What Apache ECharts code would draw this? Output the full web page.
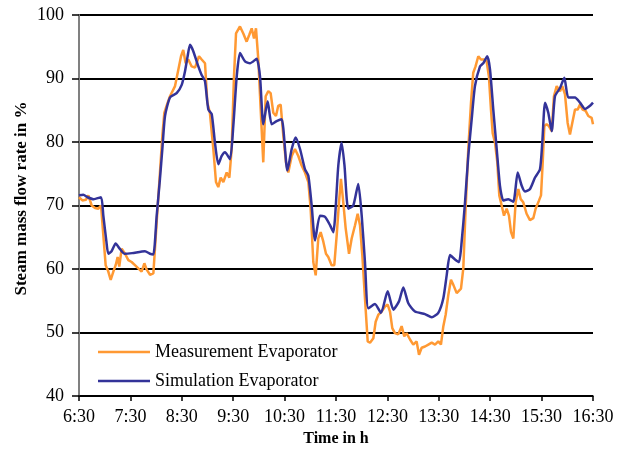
<!DOCTYPE html>
<html>
<head>
<meta charset="utf-8">
<script src="https://cdn.jsdelivr.net/npm/echarts@6/dist/echarts.min.js"></script>
<style>
html,body{margin:0;padding:0;background:#fff;}
#chart{width:627px;height:452px;}
</style>
</head>
<body>
<div id="chart"></div>
<script>
// Tick labels for the time axis (minutes after 6:30, one per hour)
var timeLabels = ["6:30","7:30","8:30","9:30","10:30","11:30","12:30","13:30","14:30","15:30","16:30"];

// Measurement Evaporator: time (min after 6:30) and steam mass flow rate (%)
var measTime = [0,4,8,10.9,14.8,18.7,22.6,25.7,28.4,31.1,34.2,37,40.1,42.8,45.1,47,49.8,53.7,57.6,61.4,65.3,69.2,73.1,76.3,79,82.9,86.8,90.7,94.5,97.3,99.6,102.2,106.2,112.1,116,119.1,121.7,124.5,127.6,131.5,135.4,140.1,143.2,147.1,149.8,152.8,156.8,159.9,162.6,165.4,168.5,172.4,175.5,178.2,180.9,183.3,187.9,191.8,195.7,198.8,201.6,204.3,206.6,209.3,212.1,215.1,217.9,221,223.7,226.8,229.9,232.6,235.4,238.5,241.6,244.3,248.3,252.1,256,259.9,263.8,267.7,270.4,273.5,276.3,279.3,282.1,285.2,288.3,291,294.9,298,300.8,303.5,305.8,308.5,311.3,315.2,318.3,322.2,325.3,328,330.7,333.8,337,339.7,343.6,346.3,349.4,353.3,357.2,360.3,363,365.7,368.8,372.7,376.6,379.7,382.4,386.4,390.2,394.1,396.9,400,403.9,407.8,411.7,415.6,419.4,422.5,425.3,428,431.1,434.2,437,440.9,442.8,445.9,448.6,451.3,454.4,457.6,460.2,462.9,466.1,469.2,473.1,475.8,478.5,480.9,482.9,485.6,488.3,490.6,493.4,496.1,499.2,501.9,504.3,507,509.7,512.8,515.6,518.6,522.5,526.4,530.3,533,537,539.3,541.3,543.2,545.8,548.5,551.8,554.4,557.6,561.5,564.2,567.3,570.4,573.1,575.8,579,582.1,584.8,587.9,591.4,594.5,598.4,600];
var measValue = [71.3,70.8,70.9,71.6,70.0,69.6,69.5,70.0,65.3,60.6,59.6,58.3,59.6,60.6,61.9,60.4,63.2,62.4,61.4,61.1,60.6,60.1,59.6,60.9,59.9,59.1,59.3,67.4,75.2,81.0,84.6,85.7,87.2,88.8,91.4,93.5,94.5,92.4,93.0,91.9,91.7,93.5,93.0,92.4,86.2,84.6,78.9,73.7,72.9,74.4,73.7,75.2,74.4,78.9,90.3,97.1,98.2,97.1,95.8,96.9,97.9,96.3,97.9,93.0,85.1,76.8,87.2,88.0,87.7,84.6,84.1,85.7,85.9,81.0,76.8,75.2,77.8,78.9,77.8,76.3,75.2,73.7,69.5,61.1,59.0,64.8,65.8,64.3,62.4,61.9,60.6,60.6,65.3,70.5,74.2,70.5,66.4,62.4,64.8,66.9,68.7,66.9,62.2,55.4,48.6,48.4,49.1,51.7,52.8,53.3,54.1,54.4,53.3,50.7,49.9,49.7,51.0,49.4,49.9,48.9,48.1,48.6,46.5,47.6,47.8,48.1,48.4,48.1,48.6,48.1,51.0,52.8,55.9,58.3,57.5,56.2,55.9,56.9,60.1,69.5,78.9,86.2,90.9,91.9,93.5,93.0,93.0,92.7,90.3,85.1,81.4,79.9,76.8,71.6,70.0,68.4,69.5,68.4,65.8,64.8,70.5,72.6,71.0,70.5,68.7,67.7,68.0,69.5,70.8,71.6,76.8,82.5,82.8,82.5,81.7,87.2,88.8,88.0,88.8,87.5,83.0,81.2,83.0,85.1,85.1,85.9,85.1,84.9,84.1,83.8,82.8];

// Simulation Evaporator
var simTime = [0,5,10,17,25.7,28.4,32,34.2,38,42.8,47.5,53,62,77,82.9,86.8,90.7,94.5,97.3,100.4,106.2,114,119.9,123.7,126.8,129.6,133.4,139.3,143,147,151,154.9,158.7,162.6,166.6,170.4,176.3,180.1,184.1,187.9,193.8,199.6,207.4,211.3,215.1,220.2,224.9,230.7,236.6,243.2,248.3,252.9,258,263.8,267.7,271.6,275.5,281.3,287.2,293,296.9,302.7,306.6,309.9,314.3,320.2,326,330,333.8,337.7,345.5,352.5,360.3,366.9,373.5,378.6,384.4,392.2,403.9,411.7,419.4,425.3,429.2,433.1,438.9,443.6,446.7,450.6,454.4,458.4,462.2,468.1,471.9,476.6,479.8,483.6,487.6,491.4,495.3,501.1,507,512.1,516.8,520.6,526.5,532.3,538.1,540.8,544,547.8,551.8,555.6,561.5,566.5,571.2,579,584.8,590.7,596.5,600];
var simValue = [71.6,71.7,71.3,71.0,71.3,68.4,64.3,62.4,62.8,64.0,63.2,62.4,62.5,62.8,62.4,62.3,68.4,74.2,78.9,84.1,87.0,87.7,89.0,91.1,93.5,95.3,94.3,91.9,90.6,89.6,85.1,84.4,79.9,76.5,77.8,78.4,77.3,82.5,90.3,94.0,92.7,92.4,93.1,90.3,82.8,86.4,82.8,83.3,83.6,75.5,78.9,80.7,78.9,75.7,74.7,70.0,64.5,68.4,68.2,66.9,65.8,76.3,79.9,76.3,69.5,70.0,73.4,68.4,61.1,53.8,54.5,53.1,56.5,53.6,54.9,57.1,54.6,53.3,52.9,52.4,53.1,55.4,59.0,62.2,61.5,61.1,64.3,70.5,77.8,83.6,88.8,91.9,92.4,93.5,91.4,85.1,78.9,73.1,70.8,71.0,70.6,75.2,73.1,72.2,72.6,74.4,75.7,79.9,86.2,84.6,81.7,87.2,88.5,90.1,87.0,87.0,86.2,85.2,85.7,86.2];

function pairs(t, v) { return t.map(function (x, i) { return [x, v[i]]; }); }

var FONT = "'Liberation Serif', 'Times New Roman', serif";
var chart = echarts.init(document.getElementById('chart'), null, {renderer: 'canvas'});
chart.setOption({
  animation: false,
  backgroundColor: '#ffffff',
  textStyle: {fontFamily: FONT, color: '#000'},
  grid: {left: 79, right: 34, top: 15, bottom: 53, containLabel: false},
  legend: {
    orient: 'vertical',
    left: 93,
    top: 337,
    icon: 'rect',
    itemWidth: 52,
    itemHeight: 2.5,
    itemGap: 9,
    textStyle: {fontFamily: FONT, fontSize: 18, color: '#000', lineHeight: 20},
    data: ['Measurement Evaporator', 'Simulation Evaporator']
  },
  xAxis: {
    type: 'value',
    min: 0, max: 600, interval: 60,
    name: 'Time in h',
    nameLocation: 'middle',
    nameGap: 35,
    nameMoveOverlap: false,
    nameTextStyle: {fontFamily: FONT, fontSize: 16, fontWeight: 'bold', color: '#000'},
    axisLine: {show: true, onZero: false, lineStyle: {color: '#000', width: 1.5}},
    axisTick: {show: true, inside: false, length: 5, lineStyle: {color: '#000', width: 1.5}},
    axisLabel: {fontFamily: FONT, fontSize: 18, color: '#000', margin: 12,
      formatter: function (v) { return timeLabels[Math.round(v / 60)]; }},
    splitLine: {show: false}
  },
  yAxis: {
    type: 'value',
    min: 40, max: 100, interval: 10,
    name: 'Steam mass flow rate in %',
    nameLocation: 'middle',
    nameGap: 49,
    nameMoveOverlap: false,
    nameTextStyle: {fontFamily: FONT, fontSize: 17, fontWeight: 'bold', color: '#000', padding: [0, 0, 0, 14]},
    axisLine: {show: true, lineStyle: {color: '#808080', width: 2}},
    axisTick: {show: true, inside: false, length: 7, lineStyle: {color: '#000', width: 1.5}},
    axisLabel: {fontFamily: FONT, fontSize: 18, color: '#000', margin: 15},
    splitLine: {show: true, lineStyle: {color: '#000', width: 2}}
  },
  series: [
    {
      name: 'Measurement Evaporator',
      type: 'line',
      data: pairs(measTime, measValue),
      symbol: 'none',
      smooth: false,
      lineStyle: {color: '#FF9933', width: 2.5},
      itemStyle: {color: '#FF9933'},
      z: 2
    },
    {
      name: 'Simulation Evaporator',
      type: 'line',
      data: pairs(simTime, simValue),
      symbol: 'none',
      smooth: 0.2,
      lineStyle: {color: '#333399', width: 2.5},
      itemStyle: {color: '#333399'},
      z: 3
    }
  ]
});
</script>
</body>
</html>
